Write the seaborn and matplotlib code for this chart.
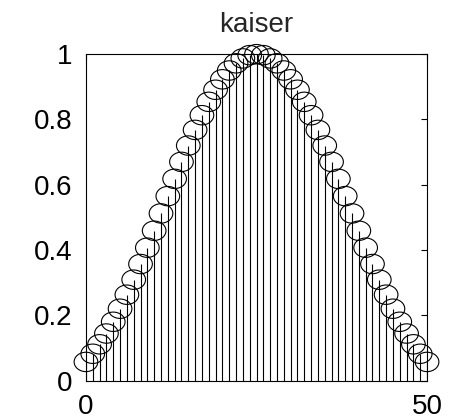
import numpy as np
import pandas as pd
import matplotlib
matplotlib.use("Agg")
import matplotlib.pyplot as plt
import seaborn as sns
from matplotlib.path import Path
from matplotlib.transforms import Affine2D

title = "kaiser"
half = [0.057, 0.082, 0.111, 0.144, 0.180, 0.220, 0.263, 0.309, 0.357, 0.407,
        0.459, 0.512, 0.565, 0.618, 0.670, 0.720, 0.768, 0.813, 0.854, 0.891,
        0.923, 0.950, 0.972, 0.987, 0.997]
values = half + [1.0] + half[::-1]
n = list(range(len(values)))
xticks = [0, 50]
yticks = [0, 0.2, 0.4, 0.6, 0.8, 1]
yticklabels = ["0", "0.2", "0.4", "0.6", "0.8", "1"]

df = pd.DataFrame({"n": n, "w": values})

sns.set_style("white")
plt.rcParams["font.family"] = ["Liberation Sans", "DejaVu Sans"]

fig = plt.figure(figsize=(4.5, 4.2), dpi=100)
ax = fig.add_axes([0.191, 0.094, 0.758, 0.777])

ax.vlines(df["n"], 0, df["w"], colors="black", linewidth=0.8, zorder=2)

ellipse = Path.unit_circle().transformed(Affine2D().scale(1.0, 0.82))
sns.scatterplot(data=df, x="n", y="w", ax=ax, marker=ellipse, s=290,
                facecolor="none", edgecolor="black", linewidth=0.8,
                zorder=3, clip_on=False, legend=False)

ax.set_xlim(0, 50)
ax.set_ylim(0, 1)
ax.set_xticks(xticks)
ax.set_xticklabels([str(t) for t in xticks])
ax.set_yticks(yticks)
ax.set_yticklabels(yticklabels)
ax.set_xlabel("")
ax.set_ylabel("")
ax.tick_params(axis="both", direction="in", length=4, width=0.8, color="black",
               labelsize=20, labelcolor="black", top=True, right=True,
               labeltop=False, labelright=False)
ax.tick_params(axis="y", pad=10)
ax.tick_params(axis="x", pad=10)
for s in ax.spines.values():
    s.set_color("black")
    s.set_linewidth(0.8)
ax.set_title(title, fontsize=20, pad=16)

fig.savefig("out.png", dpi=100, facecolor="white")
